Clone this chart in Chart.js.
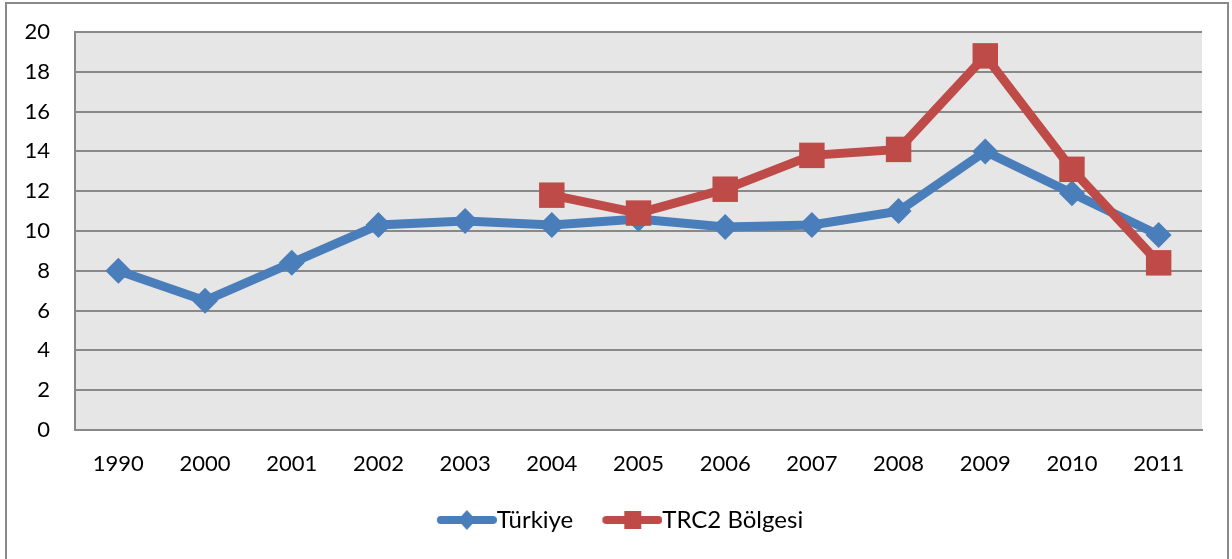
<!DOCTYPE html>
<html>
<head>
<meta charset="utf-8">
<script src="https://cdn.jsdelivr.net/npm/chart.js@4/dist/chart.umd.min.js"></script>
<style>
  html, body { margin: 0; padding: 0; background: #ffffff; }
  #wrap { position: relative; width: 1232px; height: 559px; overflow: hidden; }
  #frame { position: absolute; left: 5px; top: 2px; width: 1224px; height: 600px; border: 2px solid #898989; box-sizing: border-box; pointer-events: none; }
  canvas { position: absolute; left: 0; top: 0; }
</style>
</head>
<body>
<div id="wrap">
  <canvas id="c" width="1232" height="559"></canvas>
  <div id="frame"></div>
</div>
<script>
const categories = ['1990', '2000', '2001', '2002', '2003', '2004', '2005', '2006', '2007', '2008', '2009', '2010', '2011'];
const turkiye = [8.0, 6.5, 8.4, 10.3, 10.5, 10.3, 10.6, 10.2, 10.3, 11.0, 14.0, 11.9, 9.8];
const trc2 = [null, null, null, null, null, 11.8, 10.9, 12.1, 13.8, 14.1, 18.8, 13.1, 8.4];
const seriesNames = ['Türkiye', 'TRC2 Bölgesi'];
const yTicks = [0, 2, 4, 6, 8, 10, 12, 14, 16, 18, 20];

const BLUE = '#4a7ebb';
const RED = '#be4b48';
const GRID = '#898989';
const FONT = 'Lato';

function legendImage(color, shape) {
  const cv = document.createElement('canvas');
  cv.width = 84; cv.height = 28;
  const g = cv.getContext('2d');
  g.strokeStyle = color; g.lineWidth = 8; g.lineCap = 'round';
  g.beginPath(); g.moveTo(28, 14); g.lineTo(80, 14); g.stroke();
  g.fillStyle = color;
  g.beginPath();
  if (shape === 'diamond') {
    g.moveTo(54, 4); g.lineTo(63, 14); g.lineTo(54, 24); g.lineTo(45, 14); g.closePath();
  } else {
    g.rect(46, 5, 17, 18);
  }
  g.fill();
  return cv;
}
const legendImgs = [legendImage(BLUE, 'diamond'), legendImage(RED, 'square')];

const plotBg = {
  id: 'plotBg',
  beforeDraw(chart) {
    const a = chart.chartArea, ctx = chart.ctx;
    ctx.save();
    ctx.fillStyle = '#e6e6e6';
    ctx.fillRect(a.left, a.top, a.right - a.left, a.bottom - a.top);
    ctx.restore();
  }
};

const legendShift = {
  id: 'legendShift',
  afterLayout(chart) {
    if (chart.legend) { chart.legend.left += 13; chart.legend.right += 13; }
  }
};

new Chart(document.getElementById('c'), {
  type: 'line',
  data: {
    labels: categories,
    datasets: [
      {
        label: seriesNames[0], data: turkiye, order: 1,
        borderColor: BLUE, backgroundColor: BLUE, borderWidth: 9,
        pointStyle: 'rectRot', pointRadius: 13, pointBorderWidth: 0,
        pointBackgroundColor: BLUE, tension: 0, fill: false
      },
      {
        label: seriesNames[1], data: trc2, order: 0,
        borderColor: RED, backgroundColor: RED, borderWidth: 9,
        pointStyle: 'rect', pointRadius: 18, pointBorderWidth: 0,
        pointBackgroundColor: RED, tension: 0, fill: false
      }
    ]
  },
  options: {
    responsive: false,
    animation: false,
    devicePixelRatio: 1,
    layout: { padding: { top: 32, right: 30, left: 0, bottom: 17 } },
    plugins: {
      tooltip: { enabled: false },
      legend: {
        position: 'bottom',
        labels: {
          usePointStyle: true,
          pointStyleWidth: 60,
          boxHeight: 24,
          padding: 17,
          color: '#000000',
          font: { family: FONT, size: 24 },
          generateLabels(chart) {
            return chart.data.datasets.map((ds, i) => ({
              text: ds.label, datasetIndex: i, hidden: false,
              pointStyle: legendImgs[i], fillStyle: ds.borderColor,
              strokeStyle: ds.borderColor, lineWidth: 0, fontColor: '#000000'
            }));
          }
        }
      }
    },
    scales: {
      x: {
        offset: true,
        grid: { display: false, drawTicks: false },
        border: { display: true, color: GRID, width: 2 },
        ticks: { color: '#000000', font: { family: FONT, size: 22 }, padding: 21, maxRotation: 0 },
        afterFit(s) { s.height = 61; s.paddingLeft = 0; s.paddingRight = 0; }
      },
      y: {
        min: 0, max: 20,
        afterBuildTicks(s) { s.ticks = yTicks.map(v => ({ value: v })); },
        grid: { color: GRID, lineWidth: 2, drawTicks: false },
        border: { display: true, color: GRID, width: 2 },
        ticks: { color: '#000000', font: { family: FONT, size: 22 }, padding: 25 },
        afterFit(s) { s.width = 75; s.paddingTop = 0; s.paddingBottom = 0; }
      }
    }
  },
  plugins: [plotBg, legendShift]
});
</script>
</body>
</html>
